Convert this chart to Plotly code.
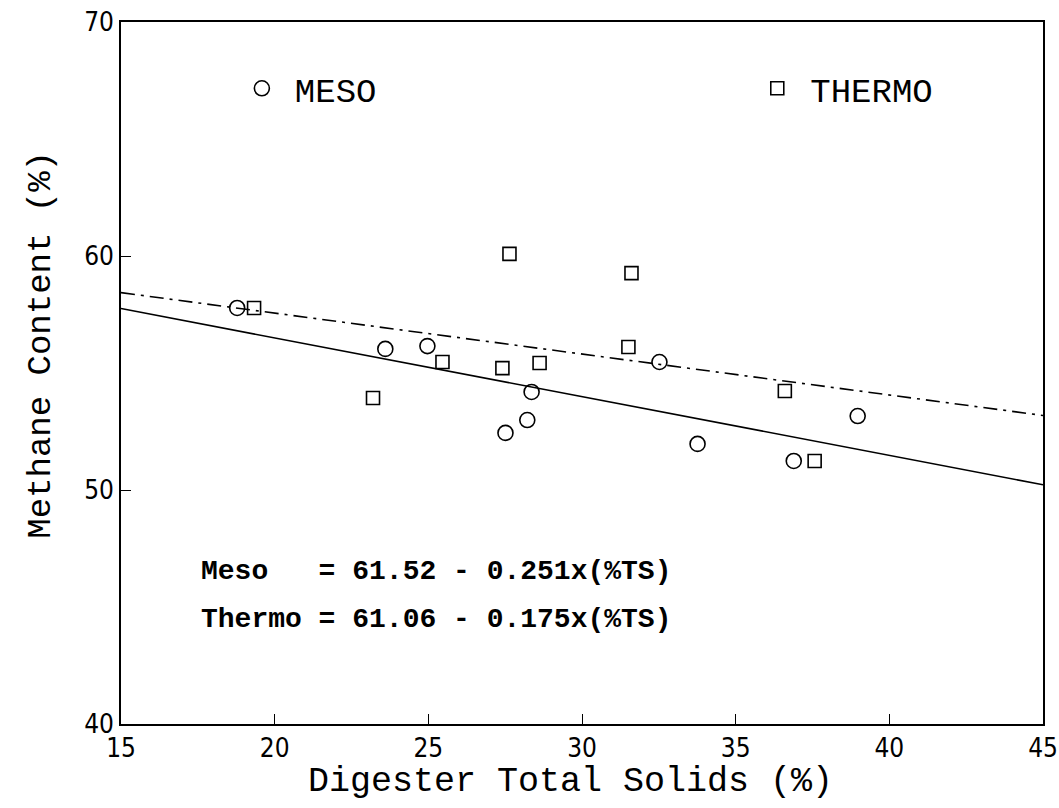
import plotly.graph_objects as go

# Data
meso_ts = [18.78, 23.6, 24.97, 27.51, 28.22, 28.36, 32.52, 33.76, 36.89, 38.97]
meso_ch4 = [57.78, 56.03, 56.15, 52.44, 52.99, 54.19, 55.47, 51.97, 51.24, 53.16]

thermo_ts = [19.33, 23.2, 25.46, 27.41, 27.64, 28.62, 31.51, 31.61, 36.6, 37.57]
thermo_ch4 = [57.78, 53.93, 55.47, 55.21, 60.09, 55.43, 56.11, 59.27, 54.23, 51.24]

# Regression line end points (from the printed equations)
fit_x = [15, 45]
meso_fit_y = [57.755, 50.225]
thermo_fit_y = [58.435, 53.185]

x_ticks = [15, 20, 25, 30, 35, 40, 45]
y_ticks = [40, 50, 60, 70]

eq_lines = ["Meso   = 61.52 - 0.251x(%TS)", "Thermo = 61.06 - 0.175x(%TS)"]
x_title = "Digester Total Solids (%)"
y_title = "Methane Content (%)"

MONO = "Liberation Mono, DejaVu Sans Mono, monospace"
TICKF = "DejaVu Sans Condensed, Liberation Mono, monospace"

fig = go.Figure()

fig.add_trace(go.Scatter(x=fit_x, y=meso_fit_y, mode="lines",
                         line=dict(color="black", width=1.6), showlegend=False))
fig.add_trace(go.Scatter(x=fit_x, y=thermo_fit_y, mode="lines",
                         line=dict(color="black", width=1.6, dash="14px,6px,3px,6px"),
                         showlegend=False))

fig.add_trace(go.Scatter(x=meso_ts, y=meso_ch4, mode="markers", name="MESO",
                         marker=dict(symbol="circle-open", size=15,
                                     color="black", line=dict(width=1.6, color="black")),
                         legend="legend"))
fig.add_trace(go.Scatter(x=thermo_ts, y=thermo_ch4, mode="markers", name="THERMO",
                         marker=dict(symbol="square-open", size=13,
                                     color="black", line=dict(width=1.6, color="black")),
                         legend="legend2"))

for txt, yy in zip(eq_lines, [46.5, 44.45]):
    fig.add_annotation(x=17.55, y=yy, xref="x", yref="y",
                       text="<b>" + txt.replace(" ", "&nbsp;") + "</b>",
                       showarrow=False, xanchor="left", yanchor="middle",
                       font=dict(family=MONO, size=28, color="black"))

# axis titles as annotations for exact placement
fig.add_annotation(x=0.488, y=-0.083, xref="paper", yref="paper", text=x_title,
                   showarrow=False, xanchor="center", yanchor="middle",
                   font=dict(family=MONO, size=35, color="black"))
fig.add_annotation(x=-0.087, y=0.54, xref="paper", yref="paper", text=y_title,
                   showarrow=False, xanchor="center", yanchor="middle", textangle=-90,
                   font=dict(family=MONO, size=34, color="black"))

fig.update_layout(
    width=1059, height=808,
    margin=dict(l=121, r=16, t=22, b=84, autoexpand=False),
    paper_bgcolor="white", plot_bgcolor="white",
    legend=dict(x=0.117, y=0.905, xanchor="left", yanchor="middle",
                font=dict(family=MONO, size=34, color="black"),
                bgcolor="rgba(0,0,0,0)", itemwidth=56),
    legend2=dict(x=0.676, y=0.905, xanchor="left", yanchor="middle",
                 font=dict(family=MONO, size=34, color="black"),
                 bgcolor="rgba(0,0,0,0)", itemwidth=56),
)

fig.update_xaxes(range=[15, 45.0001], tickvals=x_ticks, ticktext=[str(v) for v in x_ticks],
                 showgrid=False, zeroline=False, showline=True, linecolor="black",
                 linewidth=1.6, mirror=True, ticks="inside", ticklen=10, tickwidth=1.2,
                 tickcolor="black", ticklabeloverflow="allow", automargin=False,
                 tickfont=dict(family=TICKF, size=26, color="black"))
fig.update_yaxes(range=[40, 70.0001], tickvals=y_ticks, ticktext=[str(v) for v in y_ticks],
                 showgrid=False, zeroline=False, showline=True, linecolor="black",
                 linewidth=1.6, mirror=True, ticks="inside", ticklen=10, tickwidth=1.2,
                 tickcolor="black", ticklabeloverflow="allow", automargin=False,
                 tickfont=dict(family=TICKF, size=26, color="black"))

fig.write_html("out.html")
